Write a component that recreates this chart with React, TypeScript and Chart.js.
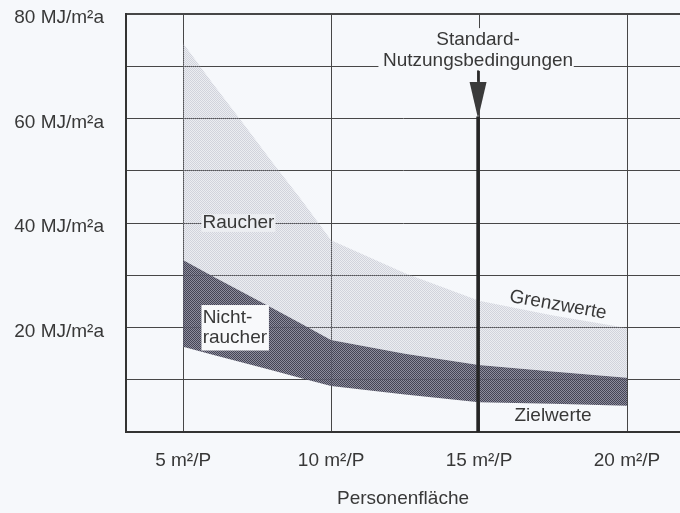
import React, { useEffect, useRef } from 'react';
import { Chart, registerables } from 'chart.js';

Chart.register(...registerables);

// ---- data ----
const xValues = [5, 6, 7, 8, 9, 10, 12.5, 15, 17.5, 20];
const raucherUpper = [74.4, 66.7, 59.3, 51.7, 44.4, 36.7, 30.4, 25.1, 22.3, 19.9];
const nichtraucherUpper = [32.9, 29.8, 26.8, 23.8, 20.7, 17.6, 15.0, 12.8, 11.6, 10.4];
const nichtraucherLower = [16.3, 14.8, 13.3, 11.8, 10.3, 8.8, 7.2, 5.7, 5.4, 5.0];
const xTicks = [5, 10, 15, 20];
const xTickLabels = ['5 m²/P', '10 m²/P', '15 m²/P', '20 m²/P'];
const yTicks = [0, 10, 20, 30, 40, 50, 60, 70, 80];
const yTickLabels = ['', '', '20 MJ/m²a', '', '40 MJ/m²a', '', '60 MJ/m²a', '', '80 MJ/m²a'];
const xAxisTitle = 'Personenfläche';
const standardX = 15;
const arrowTipValue = 60;

// ---- styles ----
const BG = '#f6f8fb';
const TEXT = '#383838';
const GRID = '#474747';
const FONT_FAMILY = '"Liberation Sans", Arial, Helvetica, sans-serif';
const FONT_SIZE = 19;

function makePattern(ctx: CanvasRenderingContext2D, a: string, b: string | null) {
  const c = document.createElement('canvas');
  c.width = 2;
  c.height = 2;
  const g = c.getContext('2d')!;
  g.fillStyle = a;
  g.fillRect(0, 0, 1, 1);
  g.fillRect(1, 1, 1, 1);
  if (b) {
    g.fillStyle = b;
    g.fillRect(1, 0, 1, 1);
    g.fillRect(0, 1, 1, 1);
  }
  return ctx.createPattern(c, 'repeat');
}

const bgPlugin = {
  id: 'bgPlugin',
  beforeDraw(chart: any) {
    const { ctx, width, height } = chart;
    ctx.save();
    ctx.fillStyle = BG;
    ctx.fillRect(0, 0, width, height);
    ctx.restore();
  },
};

const annotPlugin = {
  id: 'annotPlugin',
  afterDatasetsDraw(chart: any) {
    const { ctx } = chart;
    const xs = chart.scales.x;
    const ys = chart.scales.y;
    const px = (v: number) => xs.getPixelForValue(v);
    const py = (v: number) => ys.getPixelForValue(v);
    ctx.save();
    ctx.font = `${FONT_SIZE}px ${FONT_FAMILY}`;

    // Standard-Nutzungsbedingungen label box
    ctx.fillStyle = BG;
    ctx.fillRect(px(11.6), py(77.3), px(18.2) - px(11.6), py(69.1) - py(77.3));
    ctx.fillStyle = TEXT;
    ctx.textAlign = 'center';
    ctx.textBaseline = 'middle';
    ctx.fillText('Standard-', px(standardX) - 1, py(75.0));
    ctx.fillText('Nutzungsbedingungen', px(standardX) - 1, py(71.0));

    // stem + arrow + thick line
    const sx = px(standardX) - 1;
    ctx.strokeStyle = '#2a2a2a';
    ctx.lineWidth = 2;
    ctx.beginPath();
    ctx.moveTo(sx, py(69.2));
    ctx.lineTo(sx, py(67));
    ctx.stroke();
    ctx.fillStyle = '#3a3a3a';
    ctx.beginPath();
    ctx.moveTo(sx - 8.5, py(67));
    ctx.lineTo(sx + 8.5, py(67));
    ctx.lineTo(sx, py(arrowTipValue));
    ctx.closePath();
    ctx.fill();
    ctx.lineWidth = 3.5;
    ctx.strokeStyle = '#252525';
    ctx.beginPath();
    ctx.moveTo(sx, py(arrowTipValue) - 2);
    ctx.lineTo(sx, py(0));
    ctx.stroke();

    // Raucher label
    ctx.fillStyle = '#eceef2';
    ctx.fillRect(px(5.62), py(41.7), px(8.12) - px(5.62), py(38.3) - py(41.7));
    ctx.fillStyle = TEXT;
    ctx.textAlign = 'center';
    ctx.fillText('Raucher', px(6.87), py(40));

    // Nichtraucher label
    ctx.fillStyle = '#f8f9fb';
    ctx.fillRect(px(5.62), py(24.3), px(7.9) - px(5.62), py(15.6) - py(24.3));
    ctx.fillStyle = TEXT;
    ctx.textAlign = 'left';
    ctx.fillText('Nicht-', px(5.66), py(21.8));
    ctx.fillText('raucher', px(5.66), py(18.1));

    // Grenzwerte (rotated)
    ctx.save();
    ctx.translate(px(17.67), py(24.3));
    ctx.rotate((10 * Math.PI) / 180);
    ctx.textAlign = 'center';
    ctx.fillText('Grenzwerte', 0, 0);
    ctx.restore();

    // Zielwerte
    ctx.textAlign = 'center';
    ctx.fillText('Zielwerte', px(17.5), py(3.1));
    ctx.restore();
  },
};

export default function App() {
  const ref = useRef<HTMLCanvasElement | null>(null);

  useEffect(() => {
    document.body.style.margin = '0';
    document.body.style.background = BG;
    const canvas = ref.current!;
    const ctx = canvas.getContext('2d')!;
    const lightPattern = makePattern(ctx, 'rgba(172,174,190,0.5)', 'rgba(172,174,190,0.15)');
    const darkPattern = makePattern(ctx, 'rgb(68,68,84)', 'rgba(122,122,140,0.85)');

    const toPts = (arr: number[]) => arr.map((v, i) => ({ x: xValues[i], y: v }));
    const tickFont = { family: FONT_FAMILY, size: FONT_SIZE };

    const chart = new Chart(canvas, {
      type: 'line',
      data: {
        datasets: [
          {
            label: 'Raucher',
            data: toPts(raucherUpper),
            fill: 1,
            backgroundColor: lightPattern as any,
            borderWidth: 0,
            pointRadius: 0,
            tension: 0,
          },
          {
            label: 'Nichtraucher oben',
            data: toPts(nichtraucherUpper),
            fill: 2,
            backgroundColor: darkPattern as any,
            borderWidth: 0,
            pointRadius: 0,
            tension: 0,
          },
          {
            label: 'Nichtraucher unten',
            data: toPts(nichtraucherLower),
            fill: false,
            borderWidth: 0,
            pointRadius: 0,
            tension: 0,
          },
        ],
      },
      options: {
        animation: false,
        responsive: false,
        devicePixelRatio: 1,
        layout: { padding: { top: 14, right: 0, left: 0, bottom: 0 } },
        plugins: {
          legend: { display: false },
          tooltip: { enabled: false },
        },
        scales: {
          x: {
            type: 'linear',
            min: 3.07,
            max: 21.79,
            afterBuildTicks: (s: any) => {
              s.ticks = xTicks.map((v) => ({ value: v }));
            },
            afterFit: (s: any) => {
              s.height = 81;
              s.paddingLeft = 0;
              s.paddingRight = 0;
            },
            ticks: {
              padding: 17,
              color: TEXT,
              font: tickFont,
              maxRotation: 0,
              autoSkip: false,
              callback: (_v: any, i: number) => xTickLabels[i],
            },
            grid: { color: GRID, lineWidth: 1, drawTicks: false },
            border: { display: true, color: '#333', width: 2 },
            title: {
              display: true,
              text: xAxisTitle,
              color: TEXT,
              font: tickFont,
              padding: { top: 0, bottom: 3 },
            },
          },
          y: {
            type: 'linear',
            min: 0,
            max: 80,
            afterBuildTicks: (s: any) => {
              s.ticks = yTicks.map((v) => ({ value: v }));
            },
            afterFit: (s: any) => {
              s.width = 126;
              s.paddingTop = 0;
              s.paddingBottom = 0;
            },
            ticks: {
              padding: 22,
              labelOffset: 4,
              color: TEXT,
              font: tickFont,
              autoSkip: false,
              callback: (_v: any, i: number) => yTickLabels[i],
            },
            grid: {
              color: GRID,
              lineWidth: (c: any) => (c.tick && c.tick.value === 80 ? 2 : 1),
              drawTicks: false,
            },
            border: { display: true, color: '#333', width: 2 },
          },
        },
      },
      plugins: [bgPlugin, annotPlugin],
    });

    return () => chart.destroy();
  }, []);

  return (
    <div style={{ width: 680, height: 513, overflow: 'hidden' }}>
      <canvas ref={ref} width={680} height={513} style={{ display: 'block' }} />
    </div>
  );
}
